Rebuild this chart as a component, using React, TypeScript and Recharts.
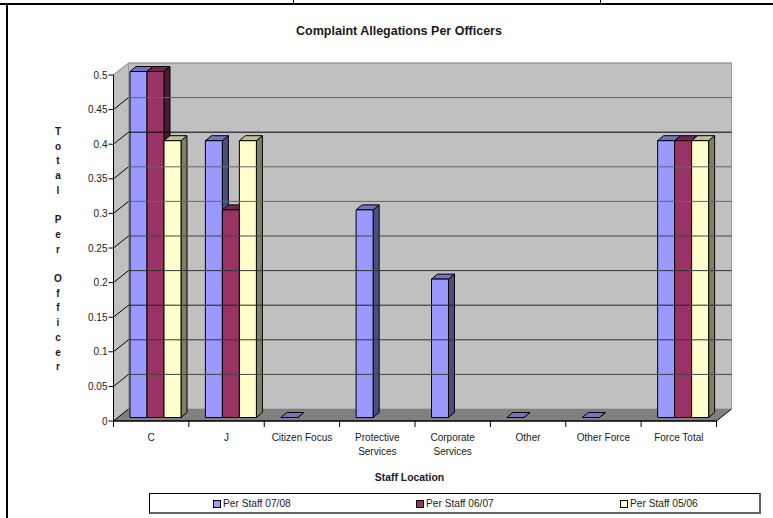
import React from 'react';
import { BarChart, Bar, XAxis, YAxis, Legend, ReferenceArea, ReferenceLine } from 'recharts';

const categories = ['C', 'J', 'Citizen Focus', 'Protective Services', 'Corporate Services', 'Other', 'Other Force', 'Force Total'];
const perStaff0708: (number | null)[] = [0.5, 0.4, 0, 0.3, 0.2, 0, 0, 0.4];
const perStaff0607: (number | null)[] = [0.5, 0.3, null, null, null, null, null, 0.4];
const perStaff0506: (number | null)[] = [0.4, 0.4, null, null, null, null, null, 0.4];
const yTicks = [0, 0.05, 0.1, 0.15, 0.2, 0.25, 0.3, 0.35, 0.4, 0.45, 0.5];
const gridShades = ['#000', '#444', '#333', '#222', '#333', '#444', '#666', '#666', '#000', '#666', '#9a9a9a'];
const yTitleWords = ['Total', 'Per', 'Officer'];

const rows = categories.map((name, i) => ({
  name,
  a: perStaff0708[i],
  b: perStaff0607[i],
  c: perStaff0506[i],
}));

const FONT = '"Liberation Sans", Arial, sans-serif';
const TEXT = '#1a1a1a';
// Depth of the box the chart sits in
const DX = 15;
const DY = 12;

const Box = ({ x, y, width, height }: any) => {
  const r = x + width;
  const b = y + height;
  return (
    <g>
      <polygon points={`${x + DX},${y - DY} ${r + DX},${y - DY} ${r + DX},${b - DY} ${x + DX},${b - DY}`} fill="#c0c0c0" stroke="#9a9a9a" />
      <polygon points={`${x},${y} ${x + DX},${y - DY} ${x + DX},${b - DY} ${x},${b}`} fill="#c0c0c0" stroke="#9a9a9a" />
      <polygon points={`${x},${b} ${x + DX},${b - DY} ${r + DX},${b - DY} ${r},${b}`} fill="#808080" />
      <line x1={x} y1={y} x2={x} y2={b} stroke="#000" />
      <line x1={x} y1={b} x2={r} y2={b} stroke="#000" />
      <line x1={x} y1={b} x2={x + DX} y2={b - DY} stroke="#000" />
      <line x1={r} y1={b} x2={r + DX} y2={b - DY} stroke="#000" />
    </g>
  );
};

const GridLine = (stroke: string) => (props: any) => {
  const { x1, y1, x2 } = props;
  return (
    <g fill="none">
      <line x1={x1} y1={y1} x2={x1 + DX} y2={y1 - DY} stroke={stroke === '#9a9a9a' ? stroke : '#000'} />
      <line x1={x1 + DX} y1={y1 - DY} x2={x2 + DX} y2={y1 - DY} stroke={stroke} strokeWidth={1} />
    </g>
  );
};

// Extruded column: front face, lit top and shaded side
const Column = (top: string, side: string) => (props: any) => {
  const { x, y, width, height, fill } = props;
  if (x == null || y == null) return null;
  const d = 6;
  const e = 5;
  const fx = x + 4.5;
  const fy = y - 3.5;
  const r = fx + width;
  const b = fy + height;
  return (
    <g stroke="#000" strokeWidth={1} strokeLinejoin="round">
      <polygon points={`${r},${fy} ${r + d},${fy - e} ${r + d},${b - e} ${r},${b}`} fill={side} />
      <polygon points={`${fx},${fy} ${fx + d},${fy - e} ${r + d},${fy - e} ${r},${fy}`} fill={top} />
      <rect x={fx} y={fy} width={width} height={height} fill={fill} />
    </g>
  );
};

const CategoryTick = ({ x, y, payload, index }: any) => {
  const step = 603 / categories.length;
  const words: string[] = payload.value.length > 15 ? payload.value.split(' ') : [payload.value];
  const last = index === categories.length - 1;
  return (
    <g>
      <line x1={x - step / 2} y1={y} x2={x - step / 2} y2={y + 6} stroke="#000" />
      {last && <line x1={x + step / 2} y1={y} x2={x + step / 2} y2={y + 6} stroke="#000" />}
      {words.map((w, i) => (
        <text key={w} x={x} y={y + 20 + i * 14} textAnchor="middle" fontFamily={FONT} fontSize={10} fill={TEXT}>
          {w}
        </text>
      ))}
    </g>
  );
};

const StackedTitle = () => {
  const STEP = 14.7;
  let row = 0;
  const cells: React.ReactNode[] = [];
  yTitleWords.forEach((word, w) => {
    word.split('').forEach((ch, i) => {
      cells.push(
        <text key={`${w}-${i}`} x={58} y={135 + row * STEP} textAnchor="middle" fontFamily={FONT} fontSize={10} fontWeight={700} fill={TEXT}>
          {ch}
        </text>
      );
      row += 1;
    });
    row += 1;
  });
  return <g>{cells}</g>;
};

const legendX = [63, 266, 470];
const LegendRow = ({ payload }: any) => (
  <div style={{ position: 'relative', width: 612, height: 21, boxSizing: 'border-box', background: '#fff', borderTop: '1px solid #000', borderLeft: '1px solid #000', borderRight: '2px solid #666', borderBottom: '2px solid #666', fontFamily: FONT, fontSize: 10.2, color: TEXT }}>
    {(payload ?? []).map((item: any, i: number) => (
      <div key={item.value} style={{ position: 'absolute', left: legendX[i], top: 4, display: 'flex', alignItems: 'center', lineHeight: '12px', whiteSpace: 'nowrap' }}>
        <span style={{ display: 'inline-block', width: 6, height: 6, background: item.color, border: '1px solid #000', marginRight: 2 }} />
        {item.value}
      </div>
    ))}
  </div>
);

const rule = (left: number, top: number, width: number, height: number, key: string) => (
  <div key={key} style={{ position: 'absolute', left, top, width, height, background: '#000' }} />
);

export default function App() {
  return (
    <div style={{ position: 'absolute', left: 0, top: 0, width: 773, height: 518, overflow: 'hidden', background: '#fff' }}>
      <BarChart
        width={773}
        height={518}
        data={rows}
        margin={{ top: 75, right: 56.5, bottom: 37, left: 0 }}
        barSize={17}
        barGap={0}
        style={{ position: 'absolute', left: 0, top: 0 }}
      >
        <XAxis dataKey="name" height={60} axisLine={{ stroke: '#000' }} tickLine={false} tickSize={0} tickMargin={0} interval={0} tick={<CategoryTick />} />
        <YAxis
          width={113.5}
          domain={[0, 0.5]}
          ticks={yTicks}
          axisLine={{ stroke: '#000' }}
          tickLine={{ stroke: '#000' }}
          tickSize={5}
          tickMargin={1}
          tick={{ fontFamily: FONT, fontSize: 10, fill: TEXT }}
        />
        <ReferenceArea y1={0} y2={0.5} shape={<Box />} ifOverflow="visible" />
        {yTicks.map((t, i) => (i === 0 ? null : (
          <ReferenceLine key={t} y={t} shape={GridLine(gridShades[i])} ifOverflow="visible" />
        )))}
        <Bar dataKey="a" name="Per Staff 07/08" fill="#9999ff" isAnimationActive={false} shape={Column('#7373bf', '#4d4d80')} />
        <Bar dataKey="b" name="Per Staff 06/07" fill="#993366" isAnimationActive={false} shape={Column('#732650', '#4d1a33')} />
        <Bar dataKey="c" name="Per Staff 05/06" fill="#ffffcc" isAnimationActive={false} shape={Column('#bfbf99', '#808066')} />
        <Legend layout="horizontal" verticalAlign="middle" itemSorter="dataKey" content={<LegendRow />} wrapperStyle={{ position: 'absolute', left: 149, top: 493, width: 612, height: 21 }} />
        <text x={399} y={35} textAnchor="middle" fontFamily={FONT} fontSize={12.5} fontWeight={700} fill={TEXT}>
          Complaint Allegations Per Officers
        </text>
        <text x={409.5} y={481} textAnchor="middle" fontFamily={FONT} fontSize={10.4} fontWeight={700} fill={TEXT}>
          Staff Location
        </text>
        <StackedTitle />
      </BarChart>
      {rule(0, 3, 773, 2, 'top')}
      {rule(6, 3, 2, 515, 'left')}
      {rule(293, 0, 1, 4, 'cell1')}
      {rule(600, 0, 1, 4, 'cell2')}
    </div>
  );
}
